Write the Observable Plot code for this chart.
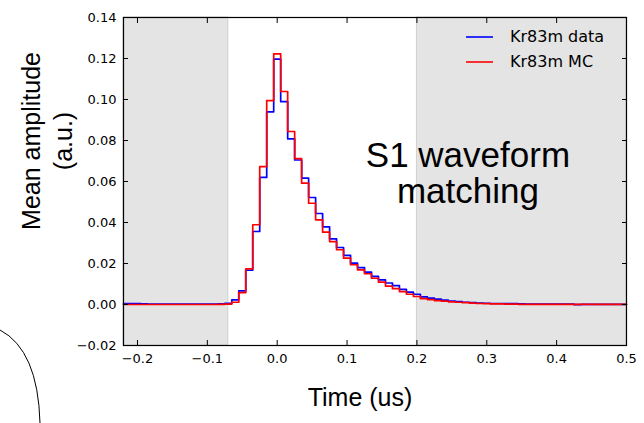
<!DOCTYPE html>
<html>
<head>
<meta charset="utf-8">
<script src="https://cdn.jsdelivr.net/npm/d3@7"></script>
<script src="https://cdn.jsdelivr.net/npm/@observablehq/plot@0.6"></script>
<style>
  html, body { margin: 0; padding: 0; background: #fff; }
  #wrap { position: relative; width: 644px; height: 423px; overflow: hidden; }
  #legend { position: absolute; left: 456px; top: 24px; font-family: "DejaVu Sans", sans-serif; font-size: 16px; color: #000; }
  #legend .row { display: flex; align-items: center; height: 25px; }
  #legend svg { margin-left: 10px; margin-right: 17px; }
  .lab { position: absolute; font-family: "Liberation Sans", Arial, sans-serif; color: #000; white-space: nowrap; line-height: 1; }
  .ylab { transform: translate(-50%, -50%) rotate(-90deg); font-size: 25px; }
  .xlab { transform: translate(-50%, -50%); font-size: 25px; }
</style>
</head>
<body>
<div id="wrap">
  <div id="chart"></div>
  <div id="legend"></div>
</div>
<script>
// Sample times (us)
const times = [-0.22,-0.21,-0.20,-0.19,-0.18,-0.17,-0.16,-0.15,-0.14,-0.13,-0.12,-0.11,-0.10,-0.09,-0.08,-0.07,-0.06,-0.05,-0.04,-0.03,-0.02,-0.01,
  0.00,0.01,0.02,0.03,0.04,0.05,0.06,0.07,0.08,0.09,0.10,0.11,0.12,0.13,0.14,0.15,0.16,0.17,0.18,0.19,0.20,
  0.21,0.22,0.23,0.24,0.25,0.26,0.27,0.28,0.29,0.30,0.31,0.32,0.33,0.34,0.35,0.36,0.37,0.38,0.39,0.40,
  0.41,0.42,0.43,0.44,0.45,0.46,0.47,0.48,0.49,0.50];

// Kr83m data (blue)
const dataAmp = [0.0004,0.0004,0.0004,0.0003,0.0002,0.0002,0.0002,0.0002,0.0002,0.0002,0.0002,0.0002,0.0002,0.0002,0.0003,0.0006,0.0023,0.0066,0.0167,0.0356,0.0620,0.0940,
  0.1197,0.0990,0.0808,0.0705,0.0616,0.0522,0.0444,0.0379,0.0320,0.0278,0.0240,0.0202,0.0180,0.0158,0.0137,0.0120,0.0105,0.0092,0.0074,0.0060,0.0050,
  0.0037,0.0031,0.0026,0.0021,0.0017,0.0014,0.0011,0.0009,0.0007,0.0006,0.0005,0.0005,0.0004,0.0004,0.0003,0.0002,0.0002,0.0002,0.0002,0.0002,
  0.0002,0.0002,-0.0001,0.0001,0.0001,0.0001,0.0001,0.0001,0.0001,0.0001];

// Kr83m MC (red)
const mcAmp = [0,0,0,0,0,0,0,0,0,0,0,0,0,0,0.0001,0.0002,0.0011,0.0058,0.0174,0.0389,0.0673,0.0995,
  0.1223,0.1039,0.0844,0.0712,0.0592,0.0494,0.0413,0.0353,0.0307,0.0267,0.0226,0.0194,0.0169,0.0150,0.0128,0.0109,0.0090,0.0077,0.0063,0.0050,0.0039,
  0.0029,0.0024,0.0019,0.0016,0.0013,0.0011,0.0009,0.0007,0.0005,0.0004,0.0003,0.0003,0.0002,0.0002,0.0001,0.0001,0.0001,0.0001,0.0001,0.0001,
  0.0001,0.0001,0.0001,0.0001,0.0001,0.0001,0.0001,0.0001,0.0001,0.0001];

const seriesNames = ["Kr83m data", "Kr83m MC"];
const seriesColors = ["#0000ff", "#ff0000"];

// Shaded (excluded) regions
const shadeStart = [-0.22, 0.2];
const shadeEnd = [-0.07, 0.5];

const xTicks = [-0.2, -0.1, 0.0, 0.1, 0.2, 0.3, 0.4, 0.5];
const yTicks = [-0.02, 0.00, 0.02, 0.04, 0.06, 0.08, 0.10, 0.12, 0.14];

const noteLines = ["S1 waveform", "matching"];
const noteX = [0.273, 0.273];
const noteY = [0.0727, 0.0550];

const xTitle = "Time (us)";
const yTitleLines = ["Mean amplitude", "(a.u.)"];

const blueRows = times.map((t, i) => ({t, v: dataAmp[i]}));
const redRows = times.map((t, i) => ({t, v: mcAmp[i]}));
const shades = shadeStart.map((s, i) => ({x1: s, x2: shadeEnd[i]}));
const notes = noteLines.map((s, i) => ({s, x: noteX[i], y: noteY[i]}));

const fmtX = d => d3.format(".1f")(d).replace("-", "\u2212");
const fmtY = d => d3.format(".2f")(d).replace("-", "\u2212");

const chart = Plot.plot({
  width: 644,
  height: 423,
  marginLeft: 123,
  marginRight: 18,
  marginTop: 17,
  marginBottom: 78,
  style: { fontFamily: "DejaVu Sans, sans-serif", background: "transparent", overflow: "visible" },
  x: { domain: [-0.22, 0.5], axis: null },
  y: { domain: [-0.02, 0.14], axis: null },
  marks: [
    Plot.rect(shades, { x1: "x1", x2: "x2", fill: "#e4e4e4", stroke: "#d0d0d0", strokeWidth: 1 }),
    Plot.line(blueRows, { x: "t", y: "v", curve: "step", stroke: seriesColors[0], strokeWidth: 1.7 }),
    Plot.line(redRows, { x: "t", y: "v", curve: "step", stroke: seriesColors[1], strokeWidth: 1.7 }),
    Plot.text(notes, { x: "x", y: "y", text: "s", fontSize: 35, fontFamily: "Liberation Sans, Arial, sans-serif", fill: "#000" }),
    Plot.frame({ stroke: "#000", strokeWidth: 1.2 }),
    Plot.axisX(xTicks, { anchor: "bottom", tickSize: -5, tickFormat: () => "", label: null }),
    Plot.axisX(xTicks, { anchor: "top", tickSize: -5, tickFormat: () => "", label: null }),
    Plot.axisY(yTicks, { anchor: "left", tickSize: -5, tickFormat: () => "", label: null }),
    Plot.axisY(yTicks, { anchor: "right", tickSize: -5, tickFormat: () => "", label: null }),
    Plot.text(xTicks, { x: d => d, frameAnchor: "bottom", dy: 13, text: fmtX, fontSize: 13, fontFamily: "DejaVu Sans, sans-serif", fill: "#000", lineAnchor: "middle" }),
    Plot.text(yTicks, { y: d => d, frameAnchor: "left", dx: -7, textAnchor: "end", text: fmtY, fontSize: 13, fontFamily: "DejaVu Sans, sans-serif", fill: "#000" })
  ]
});
document.getElementById("chart").appendChild(chart);

// decorative arc from the original slide (bottom-left)
d3.select(chart).append("path")
  .attr("d", "M0,330 Q38,350 40,423")
  .attr("fill", "none").attr("stroke", "#000").attr("stroke-width", 1);

const wrap = d3.select("#wrap");
wrap.append("div").attr("class", "lab ylab").style("left", "31px").style("top", "141px").text(yTitleLines[0]);
wrap.append("div").attr("class", "lab ylab").style("left", "63px").style("top", "141px").text(yTitleLines[1]);
wrap.append("div").attr("class", "lab xlab").style("left", "360px").style("top", "397px").text(xTitle);

const legend = d3.select("#legend");
seriesNames.forEach((n, i) => {
  const row = legend.append("div").attr("class", "row");
  const s = row.append("svg").attr("width", 27).attr("height", 6);
  s.append("line").attr("x1", 0).attr("x2", 27).attr("y1", 3).attr("y2", 3)
    .attr("stroke", seriesColors[i]).attr("stroke-width", 1.6);
  row.append("span").text(n);
});
</script>
</body>
</html>
